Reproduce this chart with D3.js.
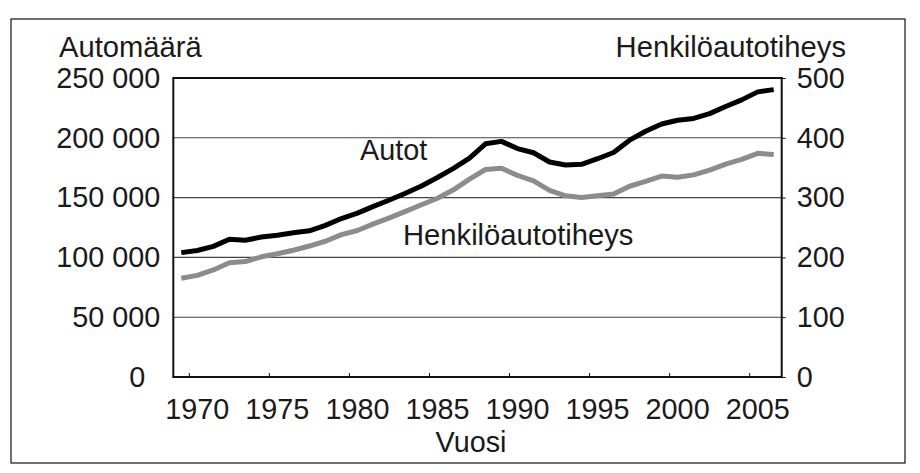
<!DOCTYPE html>
<html><head><meta charset="utf-8">
<script src="https://cdn.jsdelivr.net/npm/d3@7"></script>
<style>body{margin:0;background:#fff}svg{display:block}text{font-family:"Liberation Sans",Arial,sans-serif;fill:#1a1a1a}</style>
</head><body><svg id="c" width="920" height="473"></svg>
<script>
const years = d3.range(1969, 2007);
const autot = [104000,105800,109200,115200,114400,117000,118600,120600,122200,126800,
  132500,137000,142700,148000,153600,159700,166800,174400,183000,195000,
  197000,191000,187500,179800,177300,177800,182500,187700,198000,205500,
  211500,214700,216200,220200,226200,231700,238400,240300];
const tiheys = [165,170,179,191,193,201,206,212,219,227,
  238,245,256,266,277,288,299,313,331,347,
  349,337,328,312,303,300,303,306,319,327,
  336,334,338,346,356,364,374,372];
const leftTicks = [0,50000,100000,150000,200000,250000];
const rightTicks = [0,100,200,300,400,500];
const xLabelYears = [1970,1975,1980,1985,1990,1995,2000,2005];

const svg = d3.select("#c");
const m = {l:173.3, r:781.7, t:78, b:377};
const fs = 28.8;
const fsT = 29.2;

svg.append("rect").attr("x",11).attr("y",19).attr("width",894).attr("height",444)
  .attr("fill","none").attr("stroke","#111").attr("stroke-width",1.2);

const x = d3.scaleBand().domain(years).range([m.l, m.r]);
const yL = d3.scaleLinear().domain([0,250000]).range([m.b, m.t]);
const yR = d3.scaleLinear().domain([0,500]).range([m.b, m.t]);
const fmt = v => d3.format(",")(v).replace(/,/g, " ");

// gridlines
svg.append("g").selectAll("line").data(leftTicks.slice(1,-1)).join("line")
  .attr("x1",m.l).attr("x2",m.r).attr("y1",d=>yL(d)).attr("y2",d=>yL(d))
  .attr("stroke","#444").attr("stroke-width",1.1);

// left axis
const ga = svg.append("g").attr("transform",`translate(${m.l},0)`)
  .call(d3.axisLeft(yL).tickValues(leftTicks).tickSize(0).tickPadding(13).tickFormat(fmt));
ga.select(".domain").remove();
ga.selectAll("text").attr("font-size",fs).attr("font-family","Liberation Sans, Arial, sans-serif").attr("fill","#1a1a1a")
  .attr("dx", d => d === 0 ? -15 : 0);

// right axis
const gr = svg.append("g").attr("transform",`translate(${m.r},0)`)
  .call(d3.axisRight(yR).tickValues(rightTicks).tickSize(4).tickPadding(11));
gr.select(".domain").remove();
gr.selectAll("line").attr("stroke","#111");
gr.selectAll("text").attr("font-size",fs).attr("font-family","Liberation Sans, Arial, sans-serif").attr("fill","#1a1a1a");

// bottom axis ticks (at category left boundaries)
svg.append("g").selectAll("line").data(xLabelYears).join("line")
  .attr("x1",d=>x(d)).attr("x2",d=>x(d)).attr("y1",m.b).attr("y2",m.b-4)
  .attr("stroke","#111").attr("stroke-width",1);
svg.append("g").selectAll("text").data(xLabelYears).join("text")
  .attr("x",d=>x(d)+x.bandwidth()/2).attr("y",m.b+42).attr("text-anchor","middle")
  .attr("font-size",fs).text(d=>d);

// plot frame
svg.append("rect").attr("x",m.l).attr("y",m.t).attr("width",m.r-m.l).attr("height",m.b-m.t)
  .attr("fill","none").attr("stroke","#111").attr("stroke-width",2);

// lines
const cx = i => x(years[i]) + x.bandwidth()/2;
svg.append("path").datum(tiheys)
  .attr("d", d3.line().x((d,i)=>cx(i)).y(d=>yR(d)))
  .attr("fill","none").attr("stroke","#8c8c8c").attr("stroke-width",5).attr("stroke-linejoin","round");
svg.append("path").datum(autot)
  .attr("d", d3.line().x((d,i)=>cx(i)).y(d=>yL(d)))
  .attr("fill","none").attr("stroke","#000").attr("stroke-width",5).attr("stroke-linejoin","round");

// titles
svg.append("text").attr("x",59).attr("y",57).attr("font-size",fsT).text("Automäärä");
svg.append("text").attr("x",846).attr("y",57).attr("text-anchor","end").attr("font-size",fsT).text("Henkilöautotiheys");
svg.append("text").attr("x",471).attr("y",452).attr("text-anchor","middle").attr("font-size",fs).text("Vuosi");

// annotations
svg.append("text").attr("x",360).attr("y",160).attr("font-size",fs).text("Autot");
svg.append("text").attr("x",403).attr("y",245).attr("font-size",fsT).text("Henkilöautotiheys");
</script></body></html>
